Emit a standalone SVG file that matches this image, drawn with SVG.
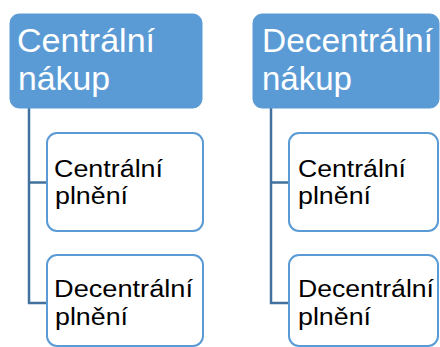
<svg xmlns="http://www.w3.org/2000/svg" width="440" height="347" viewBox="0 0 440 347">
<style>
.top{fill:#5B9BD5;stroke:#5B9BD5;stroke-width:1}
.child{fill:#FFFFFF;stroke:#5B9BD5;stroke-width:2}
.conn{fill:none;stroke:#41719C;stroke-width:2.5}
.tt{font-family:"Liberation Sans",Arial,sans-serif;font-size:33px;fill:#FFFFFF}
.ct{font-family:"Liberation Sans",Arial,sans-serif;font-size:23px;fill:#000000}
</style>
<rect width="440" height="347" fill="#FFFFFF"/>
<g id="connectors">
<path class="conn" d="M29,107 V303 H47 M29,182.5 H47"/>
<path class="conn" d="M271,107 V303 H289 M271,182.5 H289"/>
</g>
<g id="n1">
<rect class="top" x="10" y="14" width="192" height="94" rx="9"/>
<text class="tt" x="17" y="52" textLength="138" lengthAdjust="spacingAndGlyphs">Centrální</text>
<text class="tt" x="18" y="90" textLength="92" lengthAdjust="spacingAndGlyphs">nákup</text>
</g>
<g id="n2">
<rect class="child" x="47" y="133" width="156" height="98" rx="10"/>
<text class="ct" x="54" y="177" textLength="109" lengthAdjust="spacingAndGlyphs">Centrální</text>
<text class="ct" x="55" y="204" textLength="73" lengthAdjust="spacingAndGlyphs">plnění</text>
</g>
<g id="n3">
<rect class="child" x="47" y="255" width="156" height="91" rx="10"/>
<text class="ct" x="54" y="297" textLength="139" lengthAdjust="spacingAndGlyphs">Decentrální</text>
<text class="ct" x="55" y="325" textLength="73" lengthAdjust="spacingAndGlyphs">plnění</text>
</g>
<g id="n4">
<rect class="top" x="253" y="14" width="186" height="94" rx="9"/>
<text class="tt" x="262" y="52" textLength="171" lengthAdjust="spacingAndGlyphs">Decentrální</text>
<text class="tt" x="262" y="90" textLength="90" lengthAdjust="spacingAndGlyphs">nákup</text>
</g>
<g id="n5">
<rect class="child" x="289" y="133" width="149" height="98" rx="10"/>
<text class="ct" x="298" y="177" textLength="108" lengthAdjust="spacingAndGlyphs">Centrální</text>
<text class="ct" x="298" y="204" textLength="73" lengthAdjust="spacingAndGlyphs">plnění</text>
</g>
<g id="n6">
<rect class="child" x="289" y="255" width="149" height="91" rx="10"/>
<text class="ct" x="298" y="297" textLength="136" lengthAdjust="spacingAndGlyphs">Decentrální</text>
<text class="ct" x="298" y="325" textLength="73" lengthAdjust="spacingAndGlyphs">plnění</text>
</g>
</svg>
